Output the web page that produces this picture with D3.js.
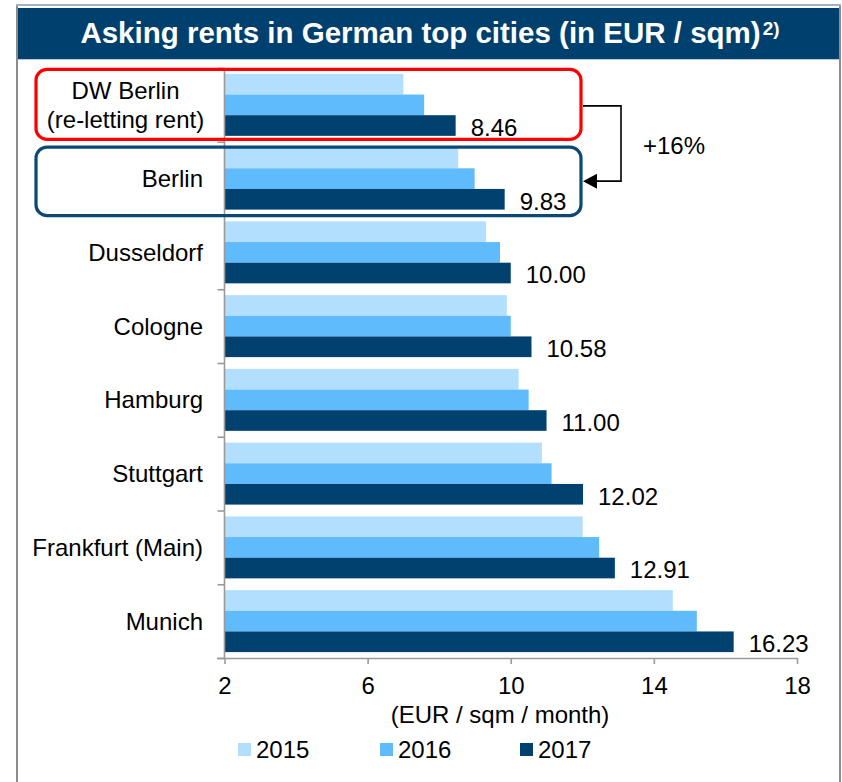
<!DOCTYPE html>
<html>
<head>
<meta charset="utf-8">
<script src="https://cdn.jsdelivr.net/npm/d3@7"></script>
<style>
  html, body { margin: 0; padding: 0; background: #ffffff; }
  svg { display: block; font-family: "Liberation Sans", Arial, sans-serif; }
</style>
</head>
<body>
<svg id="chart" width="842" height="782"></svg>
<script>
// ---- data ----
const categories = ["DW Berlin\n(re-letting rent)", "Berlin", "Dusseldorf", "Cologne", "Hamburg", "Stuttgart", "Frankfurt (Main)", "Munich"];
const years = ["2015", "2016", "2017"];
const values2015 = [7.00, 8.53, 9.31, 9.89, 10.22, 10.87, 12.01, 14.53];
const values2016 = [7.58, 8.99, 9.70, 10.00, 10.50, 11.14, 12.47, 15.20];
const values2017 = [8.46, 9.83, 10.00, 10.58, 11.00, 12.02, 12.91, 16.23];
const labels2017 = ["8.46", "9.83", "10.00", "10.58", "11.00", "12.02", "12.91", "16.23"];
const xTicks = [2, 6, 10, 14, 18];
const titleText = "Asking rents in German top cities (in EUR / sqm)";
const titleSup = "2)";
const axisTitle = "(EUR / sqm / month)";
const changeText = "+16%";

const colors = { "2015": "#b2dffd", "2016": "#5fbbfc", "2017": "#00416f" };
const seriesValues = { "2015": values2015, "2016": values2016, "2017": values2017 };

const svg = d3.select("#chart");
const FONT = 24;

// frame
svg.append("line").attr("x1", 17).attr("x2", 17).attr("y1", 5).attr("y2", 782).attr("stroke", "#8c8c8c").attr("stroke-width", 2);
svg.append("line").attr("x1", 840).attr("x2", 840).attr("y1", 5).attr("y2", 782).attr("stroke", "#8c8c8c").attr("stroke-width", 2);
svg.append("line").attr("x1", 16).attr("x2", 841).attr("y1", 5).attr("y2", 5).attr("stroke", "#9fb2c6").attr("stroke-width", 2);

// title bar
svg.append("rect").attr("x", 18).attr("y", 8).attr("width", 821).attr("height", 51).attr("fill", "#00406e");
svg.append("line").attr("x1", 18).attr("x2", 839).attr("y1", 59.5).attr("y2", 59.5).attr("stroke", "#b9c8d6").attr("stroke-width", 1);
const tt = svg.append("text").attr("x", 430).attr("y", 43).attr("text-anchor", "middle")
  .attr("fill", "#ffffff").attr("font-weight", "bold").attr("font-size", 29.5);
tt.append("tspan").text(titleText);
tt.append("tspan").attr("font-size", 19).attr("dx", 2).attr("dy", -8).text(titleSup);

// scales
const x = d3.scaleLinear().domain([2, 18]).range([224.5, 797]);
const y = d3.scaleBand().domain(categories).range([68, 658]).paddingInner(0.16).paddingOuter(0.08);
const ySub = d3.scaleBand().domain(years).range([0, y.bandwidth()]);
const yIdx = d3.scaleLinear().domain([0, categories.length]).range([68, 658]);

// bars
categories.forEach((c, i) => {
  years.forEach(yr => {
    svg.append("rect")
      .attr("x", x(2))
      .attr("y", y(c) + ySub(yr))
      .attr("width", x(seriesValues[yr][i]) - x(2))
      .attr("height", ySub.bandwidth())
      .attr("fill", colors[yr]);
  });
  // value label for 2017
  svg.append("text")
    .attr("x", x(values2017[i]) + 15)
    .attr("y", y(c) + ySub("2017") + ySub.bandwidth() / 2 + 2)
    .attr("dy", "0.35em")
    .attr("font-size", FONT)
    .attr("fill", "#000")
    .text(labels2017[i]);
  // category label
  const lines = c.split("\n");
  const cy = y(c) + y.bandwidth() / 2;
  const lh = 29;
  const t = svg.append("text").attr("font-size", FONT).attr("fill", "#000")
    .attr("text-anchor", lines.length > 1 ? "middle" : "end");
  lines.forEach((ln, k) => {
    t.append("tspan")
      .attr("x", lines.length > 1 ? 125.5 : 203)
      .attr("y", cy + (k - (lines.length - 1) / 2) * lh)
      .attr("dy", "0.35em")
      .text(ln);
  });
});

// axes
const yAxis = svg.append("g").attr("transform", "translate(224.5,0)")
  .call(d3.axisLeft(yIdx).ticks(categories.length).tickSize(7).tickSizeOuter(0).tickFormat(""));
const xAxis = svg.append("g").attr("transform", "translate(0,658)")
  .call(d3.axisBottom(x).tickValues(xTicks).tickSize(6).tickSizeOuter(0).tickPadding(13).tickFormat(d3.format("d")));
[yAxis, xAxis].forEach(g => {
  g.selectAll("path, line").attr("stroke", "#9a9a9a").attr("stroke-width", 1.6);
});
yAxis.select(".domain").remove();
yAxis.append("line").attr("x1", 0).attr("x2", 0).attr("y1", 68).attr("y2", 658).attr("stroke", "#9a9a9a").attr("stroke-width", 1.6);
xAxis.select(".domain").attr("d", `M${217},0.5H${797}`);
xAxis.selectAll("text").attr("font-size", FONT).attr("fill", "#000").attr("font-family", "Liberation Sans, Arial, sans-serif");

svg.append("text").attr("x", 500).attr("y", 715).attr("dy", "0.35em").attr("text-anchor", "middle")
  .attr("font-size", FONT).attr("fill", "#000").text(axisTitle);

// legend
const legendX = [238, 380, 520];
years.forEach((yr, k) => {
  svg.append("rect").attr("x", legendX[k]).attr("y", 743).attr("width", 13).attr("height", 13).attr("fill", colors[yr]);
  svg.append("text").attr("x", legendX[k] + 18).attr("y", 750).attr("dy", "0.35em")
    .attr("font-size", FONT).attr("fill", "#000").text(yr);
});

// annotation boxes
const b0 = y(categories[0]), b1 = y(categories[1]);
svg.append("rect").attr("x", 36).attr("y", b0 - 4.5).attr("width", 545).attr("height", 70)
  .attr("rx", 11).attr("fill", "none").attr("stroke", "#ff0000").attr("stroke-width", 3.2);
svg.append("rect").attr("x", 36).attr("y", b1 - 0.5).attr("width", 545).attr("height", 68.5)
  .attr("rx", 11).attr("fill", "none").attr("stroke", "#0b4873").attr("stroke-width", 3.2);

// arrow
const ya = b0 + y.bandwidth() / 2 + 1, yb = b1 + y.bandwidth() / 2 + 2.5;
svg.append("path").attr("d", `M583,${ya}H621V${yb}H594`).attr("fill", "none").attr("stroke", "#000").attr("stroke-width", 1.6);
svg.append("path").attr("d", `M583,${yb}L597,${yb - 7.5}L597,${yb + 7.5}Z`).attr("fill", "#000");
svg.append("text").attr("x", 643).attr("y", 146).attr("dy", "0.35em").attr("font-size", FONT).attr("fill", "#000").text(changeText);
</script>
</body>
</html>
